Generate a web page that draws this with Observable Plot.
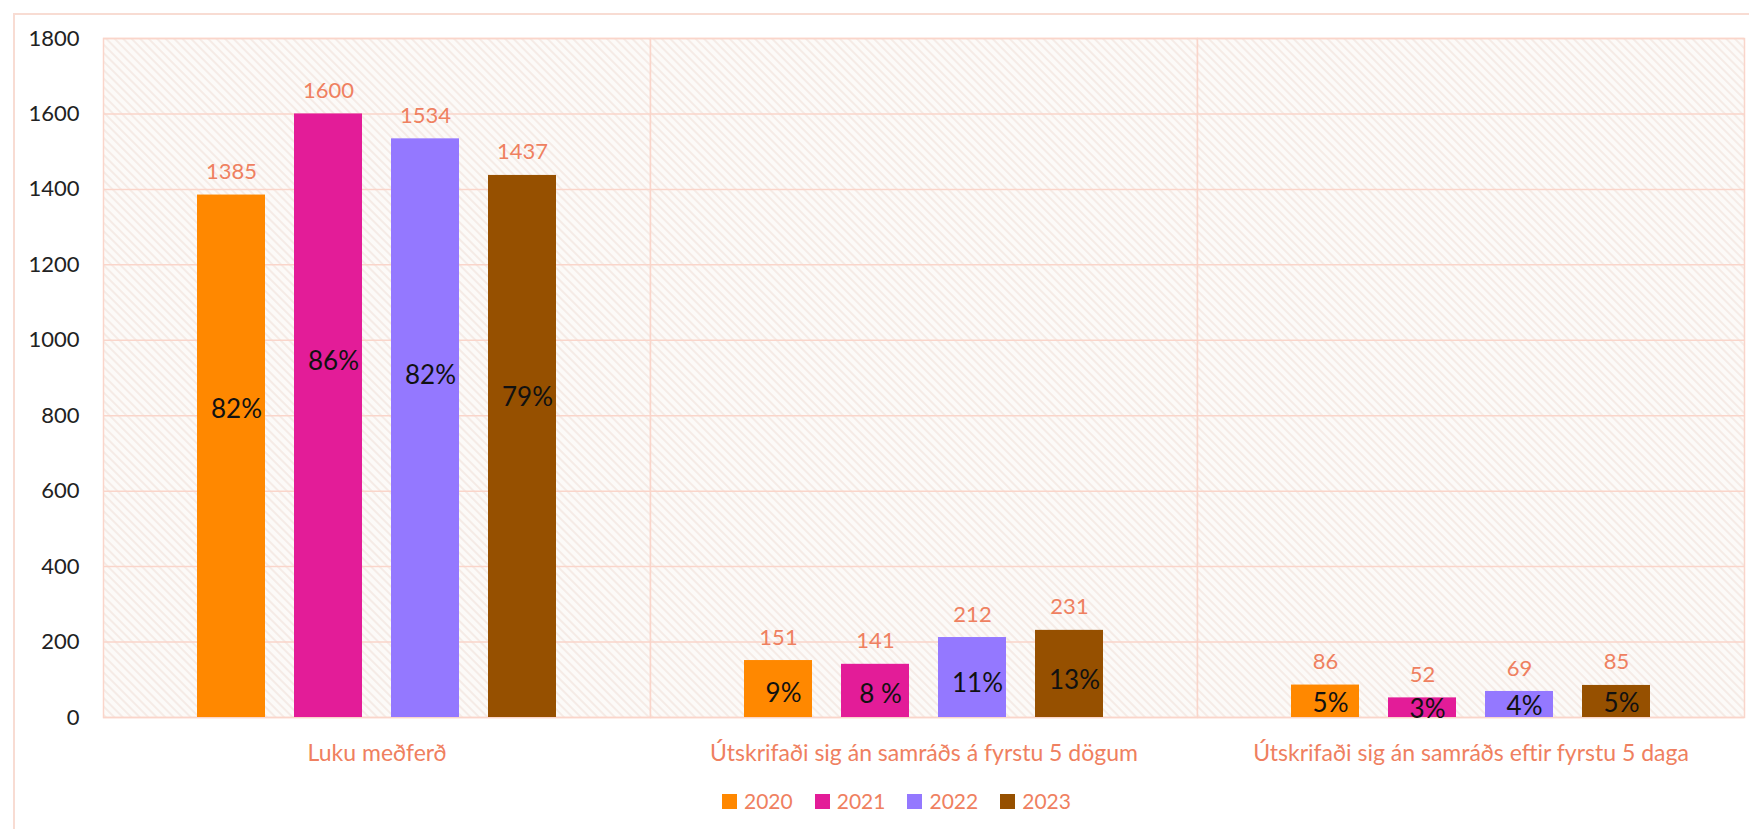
<!DOCTYPE html>
<html>
<head>
<meta charset="utf-8">
<script src="https://cdn.jsdelivr.net/npm/d3@7"></script>
<script src="https://cdn.jsdelivr.net/npm/@observablehq/plot@0.6"></script>
<style>
  html, body { margin: 0; padding: 0; background: #ffffff; }
  body { width: 1749px; height: 829px; position: relative; overflow: hidden; font-family: Lato, "Open Sans", sans-serif; }
  #frame { position: absolute; left: 13px; top: 13px; width: 2000px; height: 1000px; border-top: 2px solid #f8dcd3; border-left: 2px solid #f8dcd3; box-sizing: border-box; }
  #chart { position: absolute; left: 0; top: 0; }
  #legend { position: absolute; top: 789px; left: 722px; display: flex; align-items: center; font-size: 21px; color: #ef8060; line-height: 24px; }
  .item { display: flex; align-items: center; margin-right: 22px; }
  .sw { width: 15px; height: 15px; margin-right: 7px; }
</style>
</head>
<body>
<div id="frame"></div>
<div id="chart"></div>
<div id="legend"></div>
<script>
const categories = ["Luku meðferð", "Útskrifaði sig án samráðs á fyrstu 5 dögum", "Útskrifaði sig án samráðs eftir fyrstu 5 daga"];
const years = ["2020", "2021", "2022", "2023"];
const values2020 = [1385, 151, 86];
const values2021 = [1600, 141, 52];
const values2022 = [1534, 212, 69];
const values2023 = [1437, 231, 85];
const pct2020 = ["82%", "9%", "5%"];
const pct2021 = ["86%", "8 %", "3%"];
const pct2022 = ["82%", "11%", "4%"];
const pct2023 = ["79%", "13%", "5%"];
const yTicks = [0, 200, 400, 600, 800, 1000, 1200, 1400, 1600, 1800];
const colors = ["#ff8800", "#e31c98", "#9478ff", "#965000"];

const valuesByYear = [values2020, values2021, values2022, values2023];
const pctByYear = [pct2020, pct2021, pct2022, pct2023];
const data = [];
categories.forEach((c, i) => {
  years.forEach((y, j) => {
    data.push({category: c, year: y, value: valuesByYear[j][i], pct: pctByYear[j][i]});
  });
});

const salmon = "#ef8060";
const gridColor = "#fad5ca";

const svg = Plot.plot({
  width: 1749,
  height: 775,
  marginLeft: 102,
  marginRight: 5,
  marginTop: 38,
  marginBottom: 58,
  style: {fontFamily: "Lato, 'Open Sans', sans-serif", background: "transparent", overflow: "visible"},
  fx: {domain: categories, padding: 0, label: null},
  x: {domain: years, paddingInner: 0.296, paddingOuter: 0.95, axis: null},
  y: {domain: [0, 1800], label: null},
  color: {domain: years, range: colors},
  marks: [
    Plot.frame({fill: "url(#hatch)", stroke: gridColor, strokeWidth: 1.5}),
    Plot.gridY(yTicks, {stroke: gridColor, strokeOpacity: 1, strokeWidth: 1.5}),
    Plot.axisY(yTicks, {tickSize: 0, tickPadding: 24, fontSize: 22, fill: "#222", label: null, tickFormat: d => String(d)}),
    Plot.barY(data, {fx: "category", x: "year", y: "value", fill: "year"}),
    Plot.text(data, {fx: "category", x: "year", y: "value", text: d => String(d.value), dy: -23, fill: salmon, fontSize: 22}),
    Plot.text(data, {fx: "category", x: "year", y: d => d.value * (d.value > 500 ? 0.59 : 0.42), text: "pct", dx: 5, fill: "#111", fontSize: 26}),
    Plot.axisFx({anchor: "bottom", tickSize: 0, tickPadding: 27, fontSize: 23, fill: salmon, label: null})
  ]
});

const defs = d3.select(svg).insert("defs", ":first-child");
const pat = defs.append("pattern")
  .attr("id", "hatch")
  .attr("patternUnits", "userSpaceOnUse")
  .attr("width", 6).attr("height", 6)
  .attr("patternTransform", "rotate(45)");
pat.append("rect").attr("width", 6).attr("height", 6).attr("fill", "#fcfaf8");
pat.append("rect").attr("y", 0).attr("width", 6).attr("height", 2).attr("fill", "#f5ebe6");

document.getElementById("chart").appendChild(svg);

const legend = document.getElementById("legend");
years.forEach((y, j) => {
  const it = document.createElement("div");
  it.className = "item";
  const sw = document.createElement("div");
  sw.className = "sw";
  sw.style.background = colors[j];
  const t = document.createElement("span");
  t.textContent = y;
  it.appendChild(sw);
  it.appendChild(t);
  legend.appendChild(it);
});
</script>
</body>
</html>
